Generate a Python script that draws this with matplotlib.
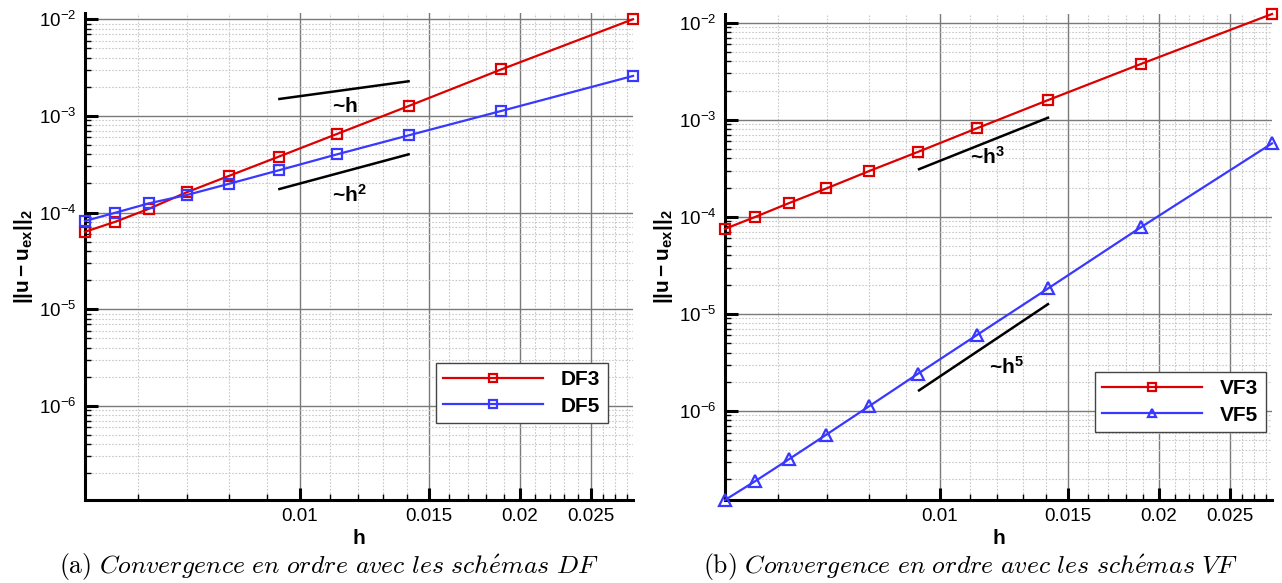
import numpy as np
import matplotlib
matplotlib.use("Agg")
import matplotlib.pyplot as plt
from matplotlib.ticker import FixedLocator, FixedFormatter, LogLocator, NullFormatter, LogFormatterSciNotation

plt.rcParams['font.family'] = ['Liberation Sans', 'DejaVu Sans']
plt.rcParams['mathtext.fontset'] = 'custom'
plt.rcParams['mathtext.rm'] = 'Liberation Sans'
plt.rcParams['mathtext.bf'] = 'Liberation Sans:bold'
plt.rcParams['mathtext.it'] = 'Liberation Sans:italic'
plt.rcParams['mathtext.sf'] = 'Liberation Sans'
plt.rcParams['axes.unicode_minus'] = False

# ---------------- data ----------------
h = [0.005076, 0.005587, 0.006211, 0.006993, 0.008000,
     0.009346, 0.011236, 0.014085, 0.018868, 0.028571]

df3 = [6.32e-5, 8.03e-5, 1.094e-4, 1.618e-4, 2.40e-4,
       3.78e-4, 6.50e-4, 1.265e-3, 3.03e-3, 1.0e-2]
df5 = [8.17e-5, 9.96e-5, 1.245e-4, 1.517e-4, 1.986e-4,
       2.73e-4, 4.0e-4, 6.29e-4, 1.125e-3, 2.59e-3]

vf3 = [7.52e-5, 1.0e-4, 1.384e-4, 1.963e-4, 2.96e-4,
       4.68e-4, 8.15e-4, 1.596e-3, 3.75e-3, 1.23e-2]
vf5 = [1.21e-7, 1.897e-7, 3.18e-7, 5.71e-7, 1.117e-6,
       2.43e-6, 6.03e-6, 1.83e-5, 7.78e-5, 5.71e-4]

# slope indicator segments (h endpoints, error endpoints)
slope_h = [0.00937, 0.01408]
slope1_y = [1.496e-3, 2.28e-3]
slope2_y = [1.75e-4, 4.0e-4]
slope3_y = [3.10e-4, 1.05e-3]
slope5_y = [1.63e-6, 1.26e-5]

xticks_major = [0.01, 0.015, 0.02, 0.025]
xtick_labels = ['0.01', '0.015', '0.02', '0.025']
xticks_minor = [0.006, 0.007, 0.008, 0.009, 0.011, 0.012, 0.013, 0.014,
                0.016, 0.017, 0.018, 0.019, 0.021, 0.022, 0.023, 0.024,
                0.026, 0.027, 0.028]

labels_left = ['DF3', 'DF5']
labels_right = ['VF3', 'VF5']
captions = [r'$\mathrm{(a)}\ \mathit{Convergence\ en\ ordre\ avec\ les\ sch\acute{e}mas\ DF}$',
            r'$\mathrm{(b)}\ \mathit{Convergence\ en\ ordre\ avec\ les\ sch\acute{e}mas\ VF}$']

RED = '#dd0000'
BLUE = '#3838ff'

W, H = 1282, 583
fig = plt.figure(figsize=(W / 100, H / 100), dpi=100)

def px_axes(x0, y0, x1, y1):
    return fig.add_axes([x0 / W, 1 - y1 / H, (x1 - x0) / W, (y1 - y0) / H])

axL = px_axes(85, 13, 633, 500)
axR = px_axes(725, 14, 1272, 500)

def style(ax, ylim):
    ax.set_xscale('log')
    ax.set_yscale('log')
    ax.set_xlim(h[0], h[-1])
    ax.set_ylim(*ylim)
    ax.xaxis.set_major_locator(FixedLocator(xticks_major))
    ax.xaxis.set_major_formatter(FixedFormatter(xtick_labels))
    ax.xaxis.set_minor_locator(FixedLocator(xticks_minor))
    ax.xaxis.set_minor_formatter(NullFormatter())
    ax.yaxis.set_major_locator(LogLocator(base=10, numticks=20))
    ax.yaxis.set_major_formatter(LogFormatterSciNotation())
    ax.yaxis.set_minor_locator(LogLocator(base=10, subs=np.arange(2, 10), numticks=20))
    ax.yaxis.set_minor_formatter(NullFormatter())
    for s in ['top', 'right']:
        ax.spines[s].set_visible(False)
    for s in ['left', 'bottom']:
        ax.spines[s].set_linewidth(2.2)
        ax.spines[s].set_color('black')
    ax.tick_params(which='major', direction='in', length=9, width=2.2,
                   labelsize=13.5, pad=6, top=False, right=False)
    ax.tick_params(which='minor', direction='in', length=4.5, width=1,
                   top=False, right=False)
    ax.set_axisbelow(True)
    ax.grid(which='major', color='#7a7a7a', linewidth=1.0, linestyle='-')
    ax.grid(which='minor', color='#c8c8c8', linewidth=0.8, linestyle=(0, (1.5, 1.5)))
    ax.set_xlabel('h', fontsize=15, fontweight='bold', labelpad=3)
    ax.set_ylabel(r'$\mathbf{||u - u_{ex}||_2}$', fontsize=15, labelpad=3)

style(axL, (1.06e-7, 0.0116))
style(axR, (1.21e-7, 0.0123))

lkw = dict(linewidth=1.6, markerfacecolor='none', markeredgewidth=1.6, clip_on=False, zorder=5)
axL.plot(h, df3, color=RED, marker='s', markersize=7.5, label=labels_left[0], **lkw)
axL.plot(h, df5, color=BLUE, marker='s', markersize=7.5, label=labels_left[1], **lkw)
axR.plot(h, vf3, color=RED, marker='s', markersize=7.5, label=labels_right[0], **lkw)
axR.plot(h, vf5, color=BLUE, marker='^', markersize=8.5, label=labels_right[1], **lkw)

skw = dict(color='black', linewidth=1.8, zorder=4)
axL.plot(slope_h, slope1_y, **skw)
axL.plot(slope_h, slope2_y, **skw)
axR.plot(slope_h, slope3_y, **skw)
axR.plot(slope_h, slope5_y, **skw)

tkw = dict(fontsize=15, fontweight='bold', ha='center', va='center')
axL.text(0.01151, 1.236e-3, r'~$\mathbf{h}$', **tkw)
axL.text(0.01169, 1.517e-4, r'~$\mathbf{h^{2}}$', **tkw)
axR.text(0.01163, 4.12e-4, r'~$\mathbf{h^{3}}$', **tkw)
axR.text(0.01235, 2.82e-6, r'~$\mathbf{h^{5}}$', **tkw)

legkw = dict(loc='upper left', borderaxespad=0, bbox_transform=fig.transFigure,
             handlelength=4.8, fancybox=False, framealpha=1, edgecolor='#444444',
             prop={'weight': 'bold', 'size': 15}, labelspacing=0.35, borderpad=0.35,
             handletextpad=0.85, markerscale=0.75)
lg = axL.legend(bbox_to_anchor=(436 / W, 1 - 363 / H), **legkw)
lg.get_frame().set_linewidth(1.0)
lg = axR.legend(bbox_to_anchor=(1095 / W, 1 - 372 / H), **legkw)
lg.get_frame().set_linewidth(1.0)

fig.text(329 / W, 1 - 566 / H, captions[0], ha='center', va='center',
         fontsize=18.5, math_fontfamily='cm')
fig.text(970 / W, 1 - 566 / H, captions[1], ha='center', va='center',
         fontsize=18.5, math_fontfamily='cm')

fig.savefig('out.png', dpi=100)
